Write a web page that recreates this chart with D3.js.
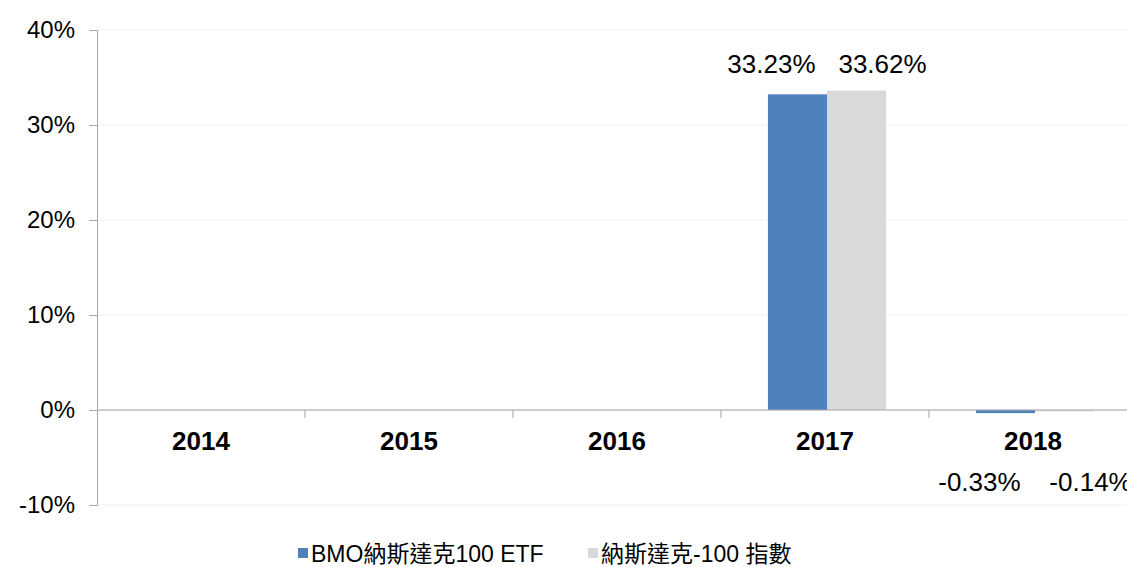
<!DOCTYPE html>
<html lang="zh-Hant">
<head>
<meta charset="UTF-8">
<title>BMO 納斯達克100 ETF</title>
<script src="https://d3js.org/d3.v7.min.js"></script>
<style>
  body { margin: 0; background: #fff; }
  svg { display: block; font-family: "Liberation Sans", Arial, "Noto Sans CJK TC", sans-serif; }
</style>
</head>
<body>
<svg id="chart" width="1127" height="567"></svg>
<script>
const years = ['2014', '2015', '2016', '2017', '2018'];
const seriesNames = ['BMO納斯達克100 ETF', '納斯達克-100 指數'];
const etfValues = [null, null, null, 33.23, -0.33];
const indexValues = [null, null, null, 33.62, -0.14];
const yTicks = [-10, 0, 10, 20, 30, 40];
const colors = ['#4f81bd', '#d9d9d9'];

const svg = d3.select('#chart');

const x = d3.scaleBand().domain(years).range([97, 1137]);
const y = d3.scaleLinear().domain([-10, 40]).range([505, 30]);
const inner = d3.scaleBand().domain([0, 1]).range([2, x.bandwidth() + 2]).paddingOuter(0.76);

// gridlines
svg.append('g')
    .selectAll('line')
    .data(yTicks)
    .join('line')
    .attr('x1', 97)
    .attr('x2', 1127)
    .attr('y1', d => y(d))
    .attr('y2', d => y(d))
    .style('stroke', '#eef0f5')
    .style('stroke-width', 1);

// y axis
const yAxis = d3.axisLeft(y).tickValues(yTicks).tickSize(8).tickPadding(14).tickFormat(d => d + '%');
const yG = svg.append('g')
    .attr('transform', 'translate(97,0)')
    .call(yAxis);
yG.select('.domain').attr('stroke', '#a6a6a6');
yG.selectAll('.tick line').attr('stroke', '#a6a6a6');
yG.selectAll('.tick text')
    .style('font-size', '24px')
    .style('fill', '#000');

// bars
const rows = years.map((yr, i) => ({ year: yr, vals: [etfValues[i], indexValues[i]] }));
const groups = svg.append('g')
    .selectAll('g.year')
    .data(rows)
    .join('g')
    .attr('class', 'year')
    .attr('transform', d => `translate(${x(d.year)},0)`);

groups.selectAll('rect')
    .data(d => d.vals.map((v, k) => ({ v, k })).filter(e => e.v !== null))
    .join('rect')
    .attr('x', e => inner(e.k))
    .attr('width', inner.bandwidth())
    .attr('y', e => y(Math.max(0, e.v)))
    .attr('height', e => Math.abs(y(e.v) - y(0)))
    .style('fill', e => colors[e.k]);

// value labels (share one baseline per year, as in the source)
groups.selectAll('text.val')
    .data(d => {
        const pos = d.vals.filter(v => v !== null && v >= 0);
        const top = pos.length ? d3.min(pos) : 0;
        return d.vals.map((v, k) => ({ v, k, top })).filter(e => e.v !== null);
    })
    .join('text')
    .attr('class', 'val')
    .attr('x', e => inner(e.k) + inner.bandwidth() / 2 + (e.k === 0 ? -26 : 26))
    .attr('y', e => e.v >= 0 ? y(e.top) - 21 : y(0) + 81)
    .attr('text-anchor', 'middle')
    .style('font-size', '26px')
    .style('fill', '#000')
    .text(e => e.v.toFixed(2) + '%');

// x axis on zero line
const xAxis = d3.axisBottom(x).tickSize(0).tickPadding(22);
const xG = svg.append('g')
    .attr('transform', `translate(0,${y(0)})`)
    .call(xAxis);
xG.select('.domain').attr('stroke', '#a6a6a6').attr('d', `M97,0H1137`);
xG.selectAll('.tick text')
    .style('font-size', '26px')
    .style('font-weight', 'bold')
    .style('fill', '#000');
xG.selectAll('line.sep')
    .data(years.slice(1))
    .join('line')
    .attr('class', 'sep')
    .attr('x1', d => x(d))
    .attr('x2', d => x(d))
    .attr('y1', 0)
    .attr('y2', 8)
    .attr('stroke', '#a6a6a6');

// legend
const legendX = [298, 588];
const legend = svg.append('g')
    .selectAll('g')
    .data(seriesNames)
    .join('g')
    .attr('transform', (d, i) => `translate(${legendX[i]},553)`);
legend.append('rect')
    .attr('x', 0)
    .attr('y', -5)
    .attr('width', 10)
    .attr('height', 10)
    .style('fill', (d, i) => colors[i]);
legend.append('text')
    .attr('x', 13)
    .attr('y', 9)
    .style('font-size', '23px')
    .style('fill', '#000')
    .text(d => d);
</script>
</body>
</html>
